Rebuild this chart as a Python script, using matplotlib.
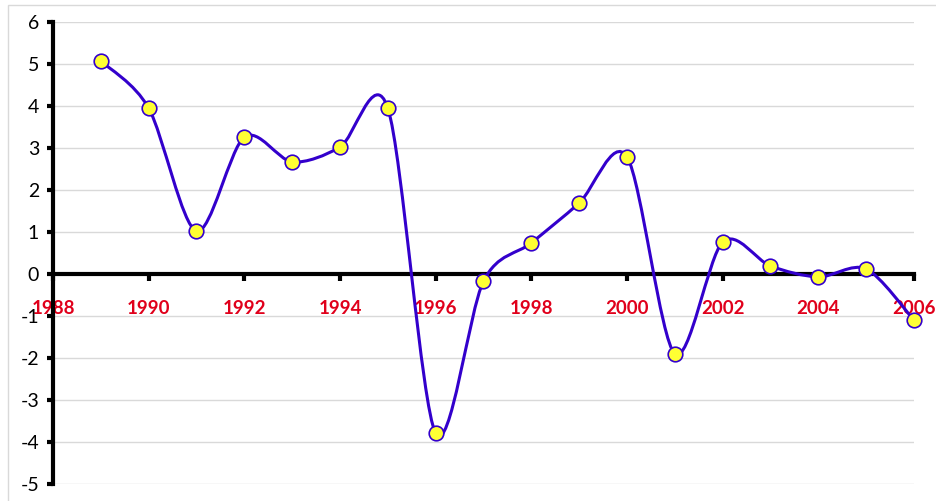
import numpy as np
import matplotlib.pyplot as plt
from matplotlib.path import Path
from matplotlib.patches import PathPatch, Rectangle

years = [1989, 1990, 1991, 1992, 1993, 1994, 1995, 1996, 1997,
         1998, 1999, 2000, 2001, 2002, 2003, 2004, 2005, 2006]
values = [5.07, 3.95, 1.02, 3.26, 2.67, 3.02, 3.95, -3.79, -0.17,
          0.74, 1.69, 2.79, -1.90, 0.76, 0.19, -0.07, 0.12, -1.10]
xticks = list(range(1988, 2007, 2))
yticks = list(range(-5, 7))

line_col = '#3300cc'
label_red = '#e0001b'

plt.rcParams['font.family'] = ['Lato', 'DejaVu Sans']
plt.rcParams['axes.unicode_minus'] = False

fig = plt.figure(figsize=(9.36, 5.01), dpi=100)
W, H = 936, 501
ax = fig.add_axes([53 / W, 1 - 484 / H, (914 - 53) / W, (484 - 22) / H])

# light frame around the chart area, like the spreadsheet chart box
fig.patches.append(Rectangle((8 / W, -0.1), 1.2, (501 - 5) / H + 0.1,
                             transform=fig.transFigure, fill=False,
                             edgecolor='#d9d9d9', lw=1))

ax.set_xlim(1988, 2006)
ax.set_ylim(-5, 6)

# smoothed line (bezier through the points, as the spreadsheet does)
pts = np.column_stack([years, values]).astype(float)
verts = [tuple(pts[0])]
codes = [Path.MOVETO]
n = len(pts)
k = 0.15
for i in range(n - 1):
    p0 = pts[i - 1] if i > 0 else pts[i]
    p1 = pts[i]
    p2 = pts[i + 1]
    p3 = pts[i + 2] if i + 2 < n else pts[i + 1]
    c1 = p1 + (p2 - p0) * k
    c2 = p2 - (p3 - p1) * k
    verts += [tuple(c1), tuple(c2), tuple(p2)]
    codes += [Path.CURVE4] * 3
ax.add_patch(PathPatch(Path(verts, codes), fill=False, edgecolor=line_col,
                       lw=2.2, zorder=3, clip_on=False))
ax.plot(years, values, ls='none', marker='o', ms=10.5, mfc='#ffff33',
        mec=line_col, mew=1.2, zorder=4, clip_on=False)

ax.set_yticks(yticks)
ax.set_xticks(xticks)
ax.grid(axis='y', color='#d9d9d9', lw=1)
ax.set_axisbelow(True)

for s in ['top', 'right']:
    ax.spines[s].set_visible(False)
ax.spines['left'].set_linewidth(3)
ax.spines['bottom'].set_linewidth(3)
ax.spines['bottom'].set_position(('data', 0))
ax.spines['bottom'].set_zorder(2.5)

ax.tick_params(axis='y', direction='out', length=4, width=3, pad=6,
               labelsize=14)
ax.tick_params(axis='x', direction='out', length=5, width=3, pad=14,
               labelsize=13.5, labelcolor=label_red)
for lab in ax.get_xticklabels():
    lab.set_fontweight('bold')

fig.savefig('out.png', dpi=100)
